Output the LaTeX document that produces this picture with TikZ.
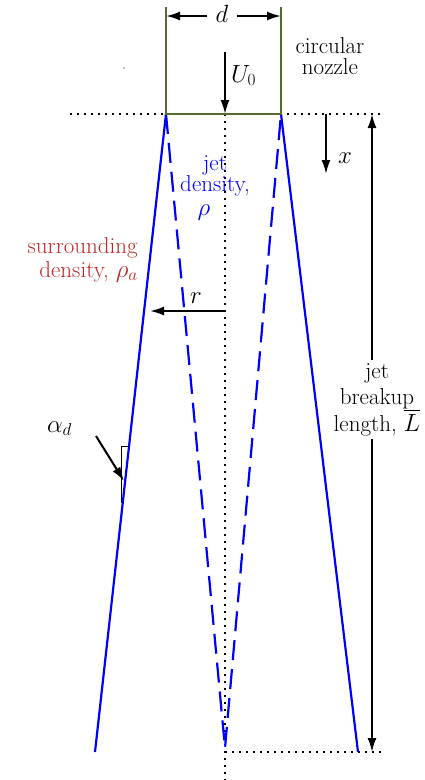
\documentclass[tikz,border=0pt]{standalone}
\usetikzlibrary{arrows.meta}
\definecolor{nozzlegreen}{RGB}{85,107,47}
\definecolor{surrred}{RGB}{190,40,40}
\begin{document}
\begin{tikzpicture}[x=1pt,y=-1pt,
  font=\fontsize{23}{21}\selectfont,
  arr/.style={-{Latex[length=14pt,width=9pt]},line width=2pt},
  dotline/.style={line width=2pt,dash pattern=on 2pt off 5pt},
  blueline/.style={blue,line width=2.2pt},
  bluedash/.style={blue,line width=2.2pt,dash pattern=on 20pt off 9pt},
  lab/.style={inner sep=1pt,anchor=base}]
\useasboundingbox (0,0) rectangle (424,780);
% coordinates
\coordinate (NTL) at (166,7);
\coordinate (NTR) at (281,7);
\coordinate (NL) at (166,114);
\coordinate (NR) at (281,114);
\coordinate (topL) at (70,114);
\coordinate (topR) at (382,114);
\coordinate (cTop) at (225,114);
\coordinate (cBot) at (225,780);
\coordinate (bL) at (225,752);
\coordinate (bR) at (382,752);
\coordinate (dL) at (166,16);
\coordinate (dR) at (281,16);
\coordinate (U0s) at (225,52);
\coordinate (xs) at (326,114);
\coordinate (xe) at (326,174);
\coordinate (Ltop) at (372,114);
\coordinate (Lbot) at (372,752);
\coordinate (BL) at (95,752);
\coordinate (BR) at (358,752);
\coordinate (apex) at (225,748);
\coordinate (rs) at (225,311);
\coordinate (re) at (150,311);
\coordinate (as) at (96,436);
\coordinate (ae) at (124,481);
\coordinate (brA) at (128,446);
\coordinate (brB) at (121,446);
\coordinate (brC) at (121,503);
% dotted lines
\draw[dotline] (topL) -- (topR);
\draw[dotline] (cTop) -- (cBot);
\draw[dotline] (bL) -- (bR);
% jet boundaries
\draw[blueline] (NL) -- (BL);
\draw[blueline] (NR) -- (BR);
\draw[bluedash] (NL) -- (apex) -- (NR);
% nozzle
\draw[nozzlegreen,line width=2pt] (NTL) -- (NL) -- (NR) -- (NTR);
% d dimension
\node[lab,inner sep=8pt] (dlab) at (222,22) {$d$};
\draw[arr] (dlab.west |- dL) -- (dL);
\draw[arr] (dlab.east |- dR) -- (dR);
% U0
\draw[arr] (U0s) -- (cTop);
\node[lab,anchor=base west] (U0lab) at (230,82) {$U_0$};
% circular nozzle
\node[lab,align=center] (nozlab) at (330,74) {circular\\nozzle};
% x
\draw[arr] (xs) -- (xe);
\node[lab] (xlab) at (345,163) {$x$};
% breakup length
\node[lab,inner sep=3pt,align=center,font=\fontsize{23}{26.5}\selectfont] (Llab) at (377,431) {jet\\breakup\\length, $\overline{\rule{0pt}{19pt}L}$};
\draw[arr] (Llab.north -| Ltop) -- (Ltop);
\draw[arr] (Llab.south -| Lbot) -- (Lbot);
% r
\draw[arr] (rs) -- (re);
\node[lab] (rlab) at (196,303) {$r$};
% jet density
\node[lab,align=center,text=blue,font=\fontsize{23}{21}\selectfont] (jetlab) at (215,215) {jet\\density,\\[3pt]$\rho$\hspace*{22pt}};
% surrounding density
\node[lab,align=right,text=surrred,anchor=base east,font=\fontsize{23}{24}\selectfont] (surlab) at (139,277) {surrounding\\density, $\rho_a$};
% alpha_d
\node[lab,anchor=base west] (alab) at (46,432) {$\alpha_d$};
\draw[arr] (as) -- (ae);
\draw[line width=0.8pt] (brA) -- (brB) -- (brC);
% stray dot
\fill (124,68) circle (0.7pt);
\end{tikzpicture}
\end{document}
